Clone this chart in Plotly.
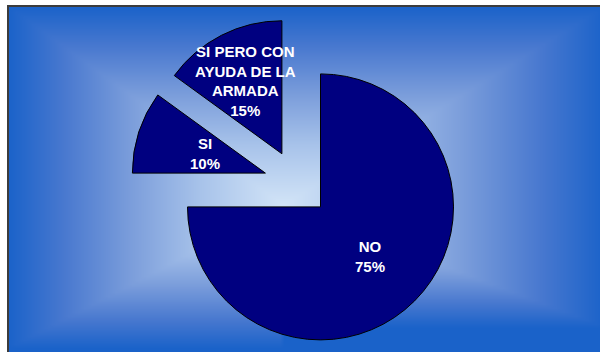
import numpy as np
import plotly.graph_objects as go

# Survey answers
labels = ["NO", "SI", "SI PERO CON<br>AYUDA DE LA<br>ARMADA"]
values = [75, 10, 15]

W, H = 600, 352

# Pie layout settings
pull = 0.25
dom_x = [0.1, 0.89]
dom_y = [0.0067, 0.9513]
label_frac = [0.53, 0.48, 0.61]  # label distance from slice tip, in radii

# Rectangular "from centre" shading used as the chart-area fill
gx = np.arange(0, W + 1, 4)
gy = np.arange(0, H + 1, 4)
X, Y = np.meshgrid(gx, gy)
cx, cy = 283.0, 205.0
left, right, up = cx - 8, 605 - cx, cy - 6
down_l, down_r = 143.0, 122.0
hx = np.where(X < cx, left, right)
hy = np.where(Y < cy, up, np.where(X < cx, down_l, down_r))
t = np.maximum(np.abs(X - cx) / hx, np.abs(Y - cy) / hy)
t = np.clip(t, 0, 1)

bg_scale = [
    [0.0, "#d2e4f7"],
    [0.3, "#a8c3ea"],
    [0.55, "#7c9edb"],
    [0.8, "#4878cf"],
    [1.0, "#1a62c9"],
]

fig = go.Figure()
fig.add_trace(go.Heatmap(
    x=gx, y=gy, z=t, colorscale=bg_scale, zmin=0, zmax=1,
    zsmooth="best", showscale=False, hoverinfo="skip",
))

fig.add_trace(go.Pie(
    labels=labels,
    values=values,
    sort=False,
    direction="clockwise",
    rotation=0,
    pull=[pull] * len(values),
    marker=dict(colors=["#000080"] * len(values), line=dict(color="#000000", width=1)),
    textinfo="none",
    domain=dict(x=dom_x, y=dom_y),
    showlegend=False,
    hoverinfo="label+percent",
))

# Data labels placed along each slice's bisector, using the pie's own geometry
pcx = W * (dom_x[0] + dom_x[1]) / 2
pcy = H * (1 - (dom_y[0] + dom_y[1]) / 2)
r = min(W * (dom_x[1] - dom_x[0]), H * (dom_y[1] - dom_y[0])) / (2 + 2 * pull)
total = float(sum(values))
annotations = []
start = 0.0
for lab, v, frac in zip(labels, values, label_frac):
    share = v / total
    mid = (start + share / 2) * 2 * np.pi
    start += share
    dx, dy = np.sin(mid), -np.cos(mid)
    d = (pull + frac) * r
    annotations.append(dict(
        x=pcx + dx * d, y=pcy + dy * d, xref="x", yref="y",
        text=f"{lab}<br>{share * 100:.0f}%", showarrow=False,
        xanchor="center", yanchor="middle", align="center",
        font=dict(family="Liberation Sans, Arial", size=15, color="white", weight="bold"),
    ))

fig.update_layout(
    width=W, height=H,
    margin=dict(l=0, r=0, t=0, b=0),
    paper_bgcolor="white",
    plot_bgcolor="white",
    xaxis=dict(range=[0, W], visible=False, domain=[0, 1], fixedrange=True),
    yaxis=dict(range=[H, 0], visible=False, domain=[0, 1], fixedrange=True),
    annotations=annotations,
    shapes=[
        dict(type="rect", xref="x", yref="y", x0=-5, y0=-5, x1=8, y1=H + 5,
             line=dict(width=0), fillcolor="white"),
        dict(type="rect", xref="x", yref="y", x0=-5, y0=-5, x1=W + 5, y1=6,
             line=dict(width=0), fillcolor="white"),
        dict(type="rect", xref="x", yref="y", x0=8, y0=6, x1=620, y1=370,
             line=dict(color="#3c3c3c", width=2), fillcolor="rgba(0,0,0,0)"),
    ],
)

fig.write_html("out.html")
